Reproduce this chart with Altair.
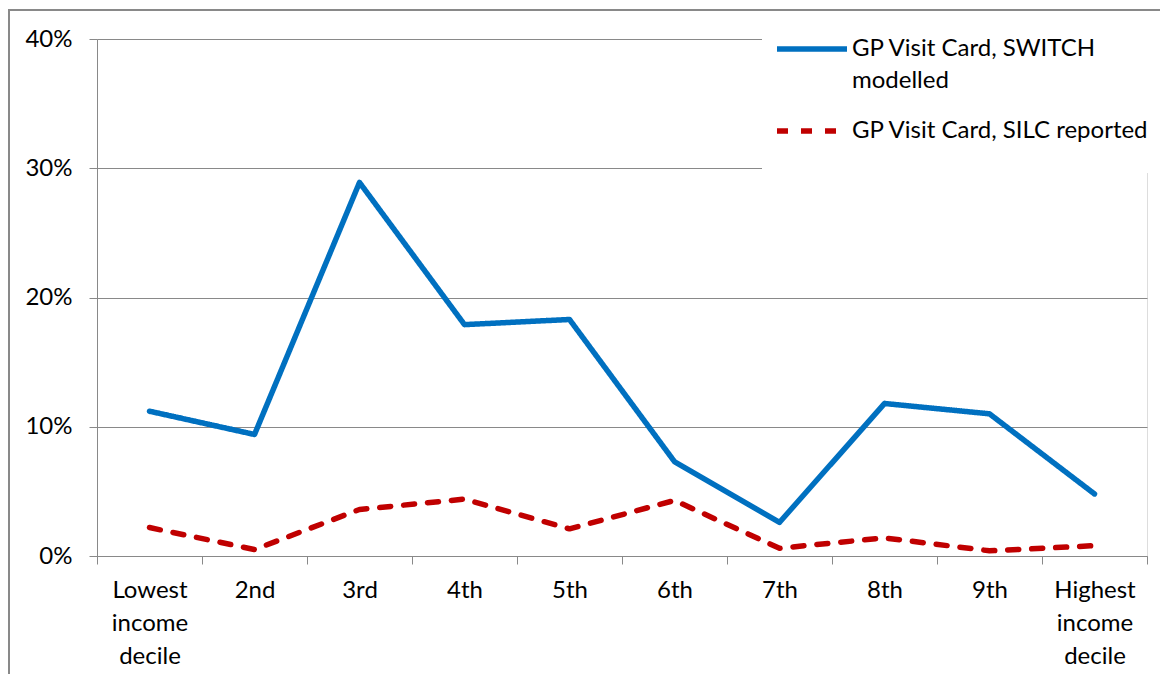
import altair as alt
import pandas as pd

deciles = ["Lowest income decile", "2nd", "3rd", "4th", "5th", "6th", "7th", "8th", "9th",
           "Highest income decile"]
switch_modelled = [0.112, 0.094, 0.289, 0.179, 0.183, 0.073, 0.026, 0.118, 0.110, 0.048]
silc_reported = [0.022, 0.005, 0.036, 0.044, 0.021, 0.043, 0.006, 0.014, 0.004, 0.008]
series_names = ["GP Visit Card, SWITCH modelled", "GP Visit Card, SILC reported"]
series_colors = ["#0070C0", "#C00000"]
y_ticks = [0, 0.1, 0.2, 0.3, 0.4]

rows = []
for name, vals in zip(series_names, [switch_modelled, silc_reported]):
    for d, v in zip(deciles, vals):
        rows.append({"decile": d, "value": v, "series": name})
df = pd.DataFrame(rows)

GRAY = "#898989"
FONT = "Lato"
FS = 24

W, H = 1050, 517

legend_kw = dict(title=None, orient="none", legendX=677, legendY=-28,
                 symbolType="stroke", symbolSize=4900, symbolStrokeWidth=5.5,
                 labelFontSize=FS, labelFont=FONT, labelLimit=500, labelOffset=2,
                 rowPadding=0, padding=0, labelColor="black",
                 labelExpr="datum.label == 'GP Visit Card, SWITCH modelled' ? "
                           "['GP Visit Card, SWITCH', 'modelled'] : datum.label")

lines = alt.Chart(df).mark_line(strokeWidth=5.5, strokeCap="round", strokeJoin="round").encode(
    x=alt.X("decile:N", sort=deciles, title=None, bandPosition=0.5,
            scale=alt.Scale(type="band", paddingInner=0, paddingOuter=0),
            axis=alt.Axis(labelAngle=0, tickBand="extent", grid=False, tickSize=8,
                          labelExpr="split(datum.label, ' ')", labelLineHeight=33,
                          labelPadding=14, labelBaseline="top", labelFontSize=FS,
                          labelColor="black", domainColor=GRAY, tickColor=GRAY,
                          labelFont=FONT)),
    y=alt.Y("value:Q", title=None, scale=alt.Scale(domain=[0, 0.4]),
            axis=alt.Axis(format=".0%", values=y_ticks, tickSize=8, labelPadding=17,
                          labelFontSize=FS, labelColor="black", domainColor=GRAY,
                          tickColor=GRAY, gridColor=GRAY, labelFont=FONT)),
    color=alt.Color("series:N", sort=series_names,
                    scale=alt.Scale(domain=series_names, range=series_colors),
                    legend=alt.Legend(**legend_kw)),
    strokeDash=alt.StrokeDash("series:N", sort=series_names,
                              scale=alt.Scale(domain=series_names, range=[[1, 0], [11, 13]]),
                              legend=alt.Legend(**legend_kw)),
)

deco = pd.DataFrame({"k": [0]})
legend_bg = alt.Chart(deco).mark_rect(fill="white").encode(
    x=alt.value(665), x2=alt.value(1062), y=alt.value(-15), y2=alt.value(134))
frame = alt.Chart(deco).mark_rect(fillOpacity=0, stroke=GRAY, strokeWidth=2).encode(
    x=alt.value(-88), x2=alt.value(1300), y=alt.value(-29), y2=alt.value(900))

chart = alt.layer(legend_bg, lines, frame).properties(
    width=W, height=H,
    autosize=alt.AutoSizeParams(type="none"),
    padding={"left": 89, "top": 31, "right": 13, "bottom": 118},
).configure_view(stroke=None).configure(
    font=FONT, style={"guide-label": {"lineHeight": 32}})

chart.save("out.html", embed_options={"renderer": "svg", "actions": False})
